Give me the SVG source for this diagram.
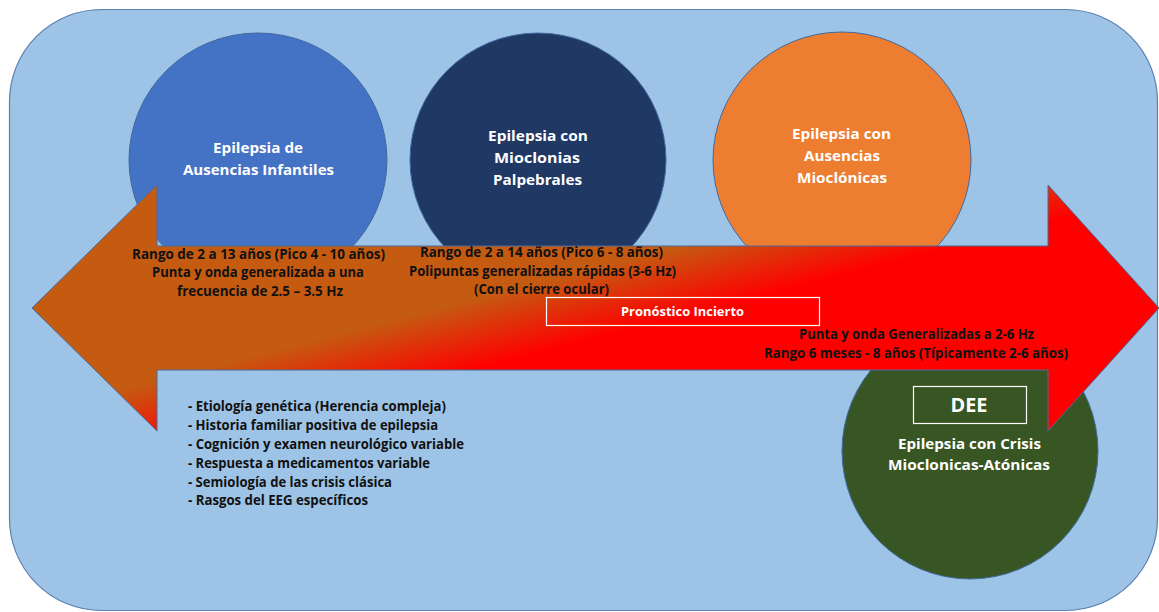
<svg xmlns="http://www.w3.org/2000/svg" width="1159" height="612" viewBox="0 0 1159 612">
<defs>
<style>
.bg{fill:#9dc3e6;stroke:#5b7fb0;stroke-width:1.2}
.node{stroke:#3f6aa0;stroke-width:1}
.wt{font-family:"Open Sans","Liberation Sans",sans-serif;font-weight:bold;fill:#ffffff;text-anchor:middle}
.bt{font-family:"Open Sans","Liberation Sans",sans-serif;font-weight:bold;fill:#111111;text-anchor:middle;font-size:14px}
.bl{font-family:"Open Sans","Liberation Sans",sans-serif;font-weight:bold;fill:#111111;font-size:14px}
.box{fill:none;stroke:#ffffff;stroke-width:1.2}
</style>
<linearGradient id="arrowGrad" gradientUnits="userSpaceOnUse" x1="525" y1="286" x2="542" y2="352">
<stop offset="0" stop-color="#c55a11"/>
<stop offset="1" stop-color="#ff0000"/>
</linearGradient>
</defs>
<rect class="bg" x="9.5" y="9.5" width="1148" height="601" rx="92" ry="92"/>
<g id="node-infantiles">
<ellipse class="node" cx="258" cy="160" rx="129" ry="127" fill="#4472c4"/>
<text class="wt" font-size="15" x="258" y="153" textLength="90" lengthAdjust="spacingAndGlyphs">Epilepsia de</text>
<text class="wt" font-size="15" x="258.5" y="175" textLength="151" lengthAdjust="spacingAndGlyphs">Ausencias Infantiles</text>
</g>
<g id="node-palpebrales">
<ellipse class="node" cx="538" cy="160" rx="128" ry="127" fill="#203864"/>
<text class="wt" font-size="15" x="538" y="141" textLength="100" lengthAdjust="spacingAndGlyphs">Epilepsia con</text>
<text class="wt" font-size="15" x="537" y="163" textLength="86" lengthAdjust="spacingAndGlyphs">Mioclonias</text>
<text class="wt" font-size="15" x="537.5" y="185" textLength="89" lengthAdjust="spacingAndGlyphs">Palpebrales</text>
</g>
<g id="node-mioclonicas">
<ellipse class="node" cx="842" cy="160" rx="129" ry="128" fill="#ed7d31"/>
<text class="wt" font-size="15" x="841.5" y="139" textLength="99" lengthAdjust="spacingAndGlyphs">Epilepsia con</text>
<text class="wt" font-size="15" x="842" y="161" textLength="76" lengthAdjust="spacingAndGlyphs">Ausencias</text>
<text class="wt" font-size="15" x="842" y="183" textLength="90" lengthAdjust="spacingAndGlyphs">Mioclónicas</text>
</g>
<g id="node-dee">
<ellipse class="node" cx="970" cy="451" rx="128" ry="128" fill="#375623"/>
</g>
<g id="connectors">
<polygon points="32,308 157,185 157,246 1048,246 1048,185 1159,308 1048,431 1048,370 157,370 157,431" fill="url(#arrowGrad)" stroke="#4a6a9a" stroke-width="1"/>
</g>
<g id="arrow-texts">
<text class="bt" x="258.5" y="259" textLength="253" lengthAdjust="spacingAndGlyphs">Rango de 2 a 13 años (Pico 4 - 10 años)</text>
<text class="bt" x="258" y="277" textLength="212" lengthAdjust="spacingAndGlyphs">Punta y onda generalizada a una</text>
<text class="bt" x="260" y="296" textLength="166" lengthAdjust="spacingAndGlyphs">frecuencia de 2.5 – 3.5 Hz</text>
<text class="bt" x="541.5" y="257" textLength="243" lengthAdjust="spacingAndGlyphs">Rango de 2 a 14 años (Pico 6 - 8 años)</text>
<text class="bt" x="542.5" y="276" textLength="267" lengthAdjust="spacingAndGlyphs">Polipuntas generalizadas rápidas (3-6 Hz)</text>
<text class="bt" x="541.5" y="294" textLength="135" lengthAdjust="spacingAndGlyphs">(Con el cierre ocular)</text>
<text class="bt" x="916.5" y="339" textLength="235" lengthAdjust="spacingAndGlyphs">Punta y onda Generalizadas a 2-6 Hz</text>
<text class="bt" x="916" y="358" textLength="304" lengthAdjust="spacingAndGlyphs">Rango 6 meses - 8 años (Típicamente 2-6 años)</text>
</g>
<g id="pronostico">
<rect class="box" x="546.5" y="297.5" width="273" height="28" stroke="#f3b0b0"/>
<text class="wt" font-size="13" x="682.5" y="316" textLength="123" lengthAdjust="spacingAndGlyphs">Pronóstico Incierto</text>
</g>
<g id="features">
<text class="bl" x="188" y="411" textLength="258" lengthAdjust="spacingAndGlyphs">- Etiología genética (Herencia compleja)</text>
<text class="bl" x="188" y="430" textLength="250" lengthAdjust="spacingAndGlyphs">- Historia familiar positiva de epilepsia</text>
<text class="bl" x="188" y="449" textLength="276" lengthAdjust="spacingAndGlyphs">- Cognición y examen neurológico variable</text>
<text class="bl" x="188" y="468" textLength="242" lengthAdjust="spacingAndGlyphs">- Respuesta a medicamentos variable</text>
<text class="bl" x="188" y="487" textLength="204" lengthAdjust="spacingAndGlyphs">- Semiología de las crisis clásica</text>
<text class="bl" x="188" y="505" textLength="180" lengthAdjust="spacingAndGlyphs">- Rasgos del EEG específicos</text>
</g>
<g id="dee-label">
<rect class="box" x="913.5" y="386.5" width="113" height="37"/>
<text class="wt" font-size="20" x="969" y="412" textLength="37" lengthAdjust="spacingAndGlyphs">DEE</text>
<text class="wt" font-size="15" x="969.5" y="449" textLength="143" lengthAdjust="spacingAndGlyphs">Epilepsia con Crisis</text>
<text class="wt" font-size="15" x="969" y="470" textLength="162" lengthAdjust="spacingAndGlyphs">Mioclonicas-Atónicas</text>
</g>
</svg>
